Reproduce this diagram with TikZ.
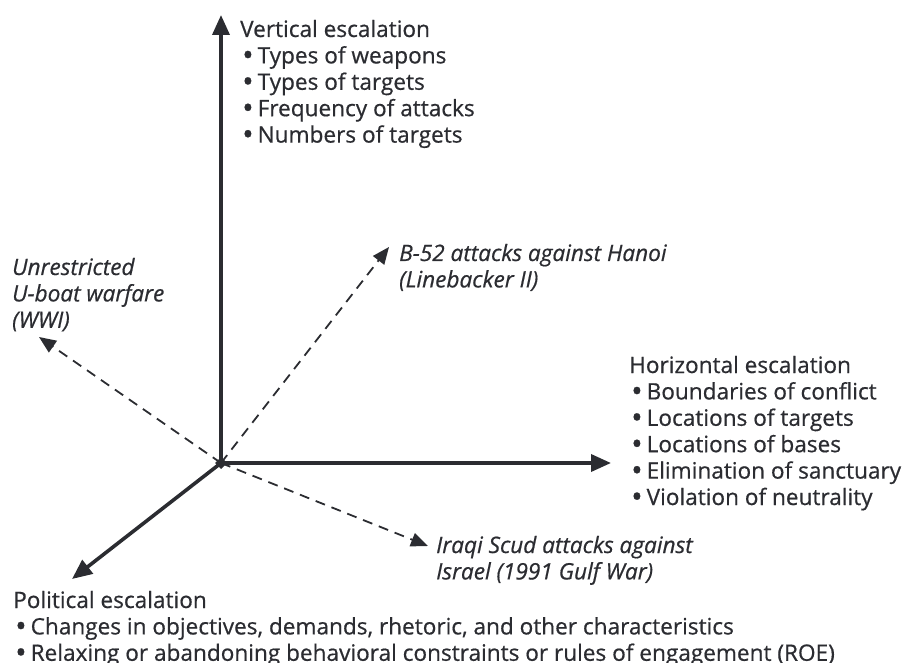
\documentclass[tikz,border=0pt]{standalone}
\usepackage{fontspec}
\usepackage{graphicx}
\setmainfont{Open Sans}[FakeBold=0.6, ItalicFeatures={FakeBold=0.6}]
\usetikzlibrary{arrows.meta}
\definecolor{ink}{HTML}{2B2C31}
\newcommand\bul{\hspace{2pt}\raisebox{-0.1em}{\scalebox{1.35}{•}}\hspace{4pt}}
\newcommand\lines[1]{\begin{tabular}[t]{@{}l@{}}#1\end{tabular}}
\tikzset{
  axis/.style={draw=ink, line width=3.6pt, -{Triangle[length=20pt,width=17pt]}},
  dline/.style={draw=ink, line width=1.8pt, dash pattern=on 10pt off 7pt, -{Triangle[length=17pt,width=14pt]}},
  txt/.style={anchor=base west, inner sep=0pt, text=ink, font=\fontsize{22.6}{26.4}\selectfont},
  itxt/.style={txt, font=\fontsize{22.6}{26.4}\selectfont\itshape},
}
\begin{document}
\begin{tikzpicture}[x=1pt,y=-1pt]
\useasboundingbox (0,0) rectangle (908,663);
\coordinate (O) at (221,463);
\coordinate (V) at (221,15);
\coordinate (H) at (611,463);
\coordinate (P) at (72,579);
\coordinate (U) at (39,337);
\coordinate (B) at (389,247);
\coordinate (I) at (428,546);
\draw[dline] (O) -- (U);
\draw[dline] (O) -- (B);
\draw[dline] (O) -- (I);
\draw[axis] (O) -- (V);
\draw[axis] (O) -- (H);
\draw[axis] (O) -- (P);
\fill[ink] (O) ++(-6,0) -- ++(6,-6) -- ++(6,6) -- ++(-6,6) -- cycle;
\node[txt] (vt) at (240,37) {\lines{Vertical escalation\\\bul Types of weapons\\\bul Types of targets\\\bul Frequency of attacks\\\bul Numbers of targets}};
\node[txt] (ht) at (629,373) {\lines{Horizontal escalation\\\bul Boundaries of conflict\\\bul Locations of targets\\\bul Locations of bases\\\bul Elimination of sanctuary\\\bul Violation of neutrality}};
\node[itxt] (it) at (436,553) {\lines{Iraqi Scud attacks against\\Israel (1991 Gulf War)}};
\node[itxt] (bt) at (399,261) {\lines{B-52 attacks against Hanoi\\(Linebacker II)}};
\node[itxt] (ut) at (12,275) {\lines{Unrestricted\\U-boat warfare\\(WWI)}};
\node[txt] (pt) at (13,608) {\lines{Political escalation\\\bul Changes in objectives, demands, rhetoric, and other characteristics\\\bul Relaxing or abandoning behavioral constraints or rules of engagement (ROE)}};
\end{tikzpicture}
\end{document}
